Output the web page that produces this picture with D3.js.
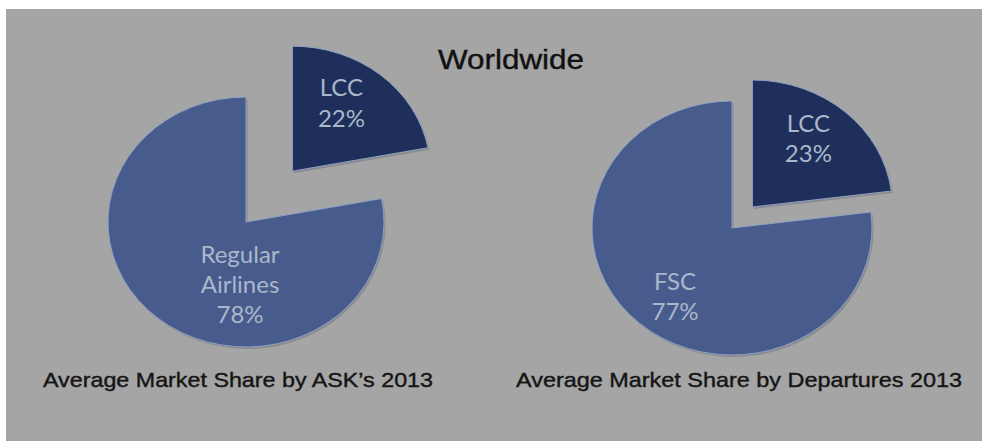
<!DOCTYPE html>
<html>
<head>
<meta charset="utf-8">
<script src="https://cdn.jsdelivr.net/npm/d3@7"></script>
<style>
  html, body { margin: 0; padding: 0; background: #ffffff; }
  svg { display: block; }
</style>
</head>
<body>
<svg id="chart" width="982" height="441"></svg>
<script>
// Market share data, 2013
const title = "Worldwide";
const leftCategories = ["LCC", "Regular Airlines"];
const leftValues = [22, 78];
const leftCaption = "Average Market Share by ASK\u2019s 2013";
const rightCategories = ["LCC", "FSC"];
const rightValues = [23, 77];
const rightCaption = "Average Market Share by Departures 2013";

const W = 982, H = 441;
const svg = d3.select("#chart");

// slide background with a thin white margin on top/left
svg.append("rect").attr("width", W).attr("height", H).attr("fill", "#ffffff");
svg.append("rect").attr("x", 6).attr("y", 9).attr("width", W - 6).attr("height", H - 9)
  .attr("fill", "#a5a5a5");

const colors = { dark: "#1f2f5b", main: "#475c8d" };
const labelColor = "#aab7ca";

// layout of each pie: centre, radii, how far the small slice is pulled out,
// and where the slice labels sit (relative to each slice's own centre)
const charts = [
  {
    categories: leftCategories, values: leftValues, caption: leftCaption,
    cx: 246, cy: 222, rx: 138, ry: 125, explode: 66,
    labels: [
      { dx: 49, dy: [-75, -44], lines: d => [d.data.cat, d.data.value + "%"] },
      { dx: -6, dy: [41, 71, 101], lines: d => ["Regular", "Airlines", d.data.value + "%"] }
    ],
    capX: 43, capW: 390
  },
  {
    categories: rightCategories, values: rightValues, caption: rightCaption,
    cx: 732, cy: 228, rx: 140, ry: 127, explode: 28,
    labels: [
      { dx: 56, dy: [-75, -45], lines: d => [d.data.cat, d.data.value + "%"] },
      { dx: -57, dy: [62, 92], lines: d => [d.data.cat, d.data.value + "%"] }
    ],
    capX: 516, capW: 446
  }
];

const pie = d3.pie().sort(null).value(d => d.value);

charts.forEach(c => {
  const data = c.categories.map((cat, i) => ({ cat, value: c.values[i] }));
  const arcs = pie(data);
  const arc = d3.arc().innerRadius(0).outerRadius(c.ry);
  const sx = c.rx / c.ry;

  const g = svg.append("g");
  arcs.forEach((a, i) => {
    const mid = (a.startAngle + a.endAngle) / 2;
    const off = i === 0 ? c.explode : 0;
    const ox = c.cx + Math.sin(mid) * off * sx;
    const oy = c.cy - Math.cos(mid) * off;
    const sg = g.append("g").attr("transform", `translate(${ox},${oy})`);
    // soft shadow
    sg.append("path")
      .attr("d", arc(a))
      .attr("transform", `translate(1.5,2) scale(${sx},1)`)
      .attr("fill", "#6f7278").attr("opacity", 0.5);
    sg.append("path")
      .attr("d", arc(a))
      .attr("transform", `scale(${sx},1)`)
      .attr("fill", i === 0 ? colors.dark : colors.main)
      .attr("stroke", "#8ea0c2").attr("stroke-width", 1)
      .attr("vector-effect", "non-scaling-stroke");

    const lab = c.labels[i];
    const lines = lab.lines(a);
    lines.forEach((t, k) => {
      sg.append("text")
        .attr("x", lab.dx).attr("y", lab.dy[k])
        .attr("text-anchor", "middle")
        .attr("font-family", "Lato, 'Open Sans', sans-serif")
        .attr("font-size", 24)
        .attr("fill", labelColor)
        .text(t);
    });
  });

  svg.append("text")
    .attr("x", c.capX).attr("y", 387)
    .attr("font-family", "'Liberation Sans', Arial, sans-serif")
    .attr("font-size", 21)
    .attr("fill", "#151515")
    .attr("stroke", "#151515").attr("stroke-width", 0.4)
    .attr("textLength", c.capW).attr("lengthAdjust", "spacingAndGlyphs")
    .text(c.caption);
});

svg.append("text")
  .attr("x", 438).attr("y", 69)
  .attr("font-family", "'Liberation Sans', Arial, sans-serif")
  .attr("font-size", 27)
  .attr("fill", "#111111")
  .attr("stroke", "#111111").attr("stroke-width", 0.4)
  .attr("textLength", 146).attr("lengthAdjust", "spacingAndGlyphs")
  .text(title);
</script>
</body>
</html>
